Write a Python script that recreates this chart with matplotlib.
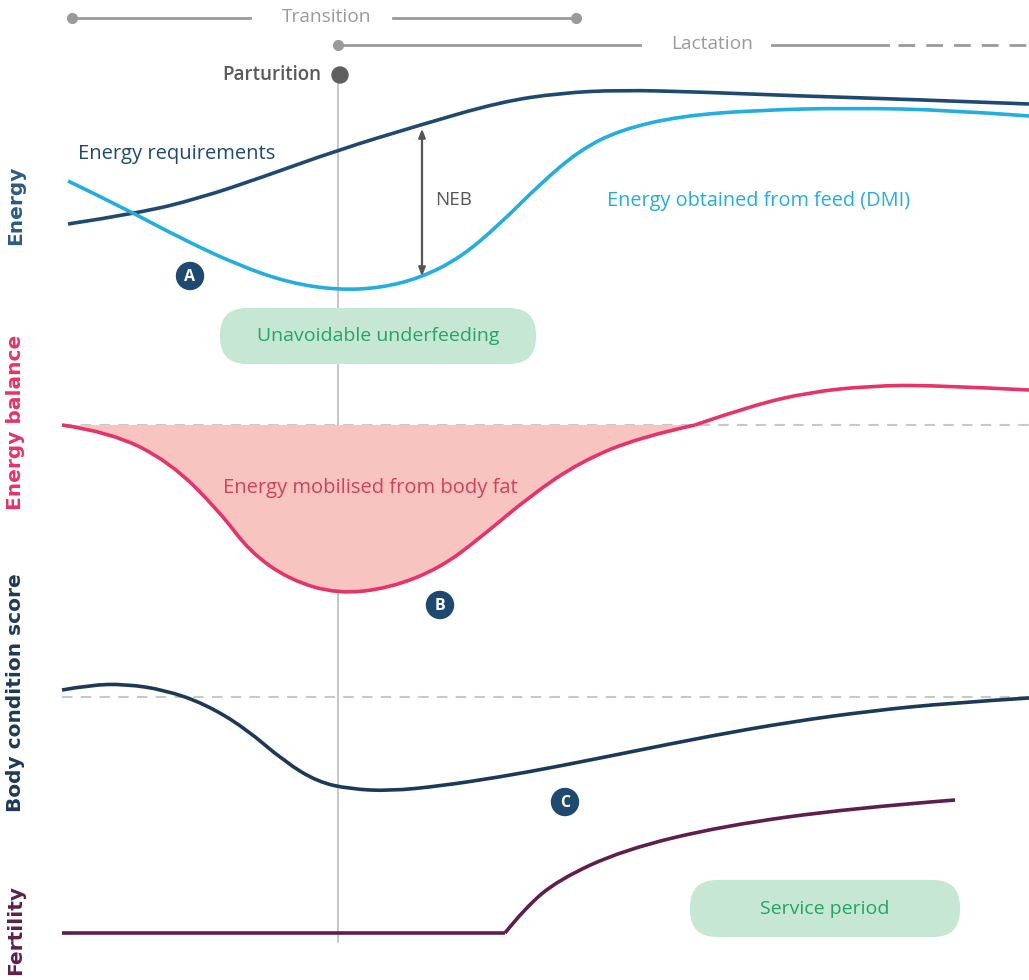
import matplotlib.pyplot as plt
from matplotlib.path import Path
from matplotlib.patches import PathPatch, FancyBboxPatch, Circle

# Schematic curves (x, y in picture pixels, y down)
energy_req_x = [68, 140, 200, 260, 338, 420, 500, 560, 620, 700, 800, 900, 1029]
energy_req_y = [224, 213, 198, 178, 150, 125, 102, 93, 90, 92, 96, 99, 104]

dmi_x = [68, 120, 180, 240, 290, 338, 380, 420, 460, 500, 540, 580, 620, 680, 760, 850, 950, 1029]
dmi_y = [181, 206, 238, 266, 283, 290, 288, 278, 258, 224, 184, 150, 130, 116, 110, 108, 110, 116]

balance_dip_x = [62, 110, 170, 220, 250, 290, 338, 390, 440, 480, 530, 580, 640, 695]
balance_dip_y = [425, 432, 462, 512, 552, 580, 594, 588, 568, 538, 496, 462, 437, 425]
balance_rise_x = [695, 750, 810, 870, 930, 1029]
balance_rise_y = [425, 406, 392, 386, 385, 390]
balance_ref = 425

bcs_x = [62, 90, 125, 165, 205, 245, 285, 318, 350, 390, 440, 500, 560, 630, 710, 790, 870, 950, 1029]
bcs_y = [690, 685, 684, 690, 704, 728, 762, 782, 789, 791, 786, 777, 766, 752, 736, 722, 711, 703, 698]
bcs_ref = 697

fert_flat_x = [62, 505]
fert_flat_y = [933, 933]
fert_rise_x = [505, 525, 558, 623, 722, 853, 955]
fert_rise_y = [933, 908, 880, 850, 826, 808, 800]

markers = [("A", 190, 276), ("B", 440, 605), ("C", 565, 802)]
row_labels = [("Energy", 205, "#2b5b86"), ("Energy balance", 422, "#e6336a"),
              ("Body condition score", 693, "#1c3a57"), ("Fertility", 930, "#5e1f4c")]

FONT = "Open Sans"
GREY = "#9a9a9a"


def smooth_path(xs, ys, closed=False):
    pts = list(zip(xs, ys))
    verts = [pts[0]]
    codes = [Path.MOVETO]
    n = len(pts)
    for i in range(1, n - 1):
        end = pts[i + 1] if i == n - 2 else ((pts[i][0] + pts[i + 1][0]) / 2, (pts[i][1] + pts[i + 1][1]) / 2)
        verts += [pts[i], end]
        codes += [Path.CURVE3, Path.CURVE3]
    if n == 2:
        verts.append(pts[1])
        codes.append(Path.LINETO)
    if closed:
        verts.append(pts[0])
        codes.append(Path.CLOSEPOLY)
    return Path(verts, codes)


def curve(ax, xs, ys, color, lw=2.6, z=3):
    ax.add_patch(PathPatch(smooth_path(xs, ys), fill=False, edgecolor=color, lw=lw,
                           capstyle="butt", joinstyle="round", zorder=z))


fig = plt.figure(figsize=(10.29, 9.8), dpi=100)
ax = fig.add_axes([0, 0, 1, 1])
ax.set_xlim(0, 1029)
ax.set_ylim(980, 0)
ax.axis("off")

# parturition line
ax.plot([338, 338], [75, 942], color="#bdbdbd", lw=1.2, zorder=1)
ax.add_patch(Circle((340, 75), 8, color="#5f5f5f", zorder=4))
ax.text(321, 75, "Parturition", ha="right", va="center", fontsize=13.5,
        fontweight="semibold", color="#5a5a5a", family=FONT)

# transition / lactation bars
ax.plot([72, 250], [18, 18], color=GREY, lw=2)
ax.plot([393, 576], [18, 18], color=GREY, lw=2)
ax.plot([72, 576], [18, 18], "o", color=GREY, ms=7, lw=0)
ax.text(327, 17, "Transition", ha="center", va="center", fontsize=13.8, color=GREY, family=FONT)
ax.plot([338, 640], [45, 45], color=GREY, lw=2)
ax.plot([338], [45], "o", color=GREY, ms=7)
ax.plot([772, 888], [45, 45], color=GREY, lw=2)
ax.plot([898, 1029], [45, 45], color=GREY, lw=2, dashes=(6, 4))
ax.text(712, 44, "Lactation", ha="center", va="center", fontsize=13.8, color=GREY, family=FONT)

# energy panel
curve(ax, energy_req_x, energy_req_y, "#1e4a72")
curve(ax, dmi_x, dmi_y, "#22aee0")
ax.annotate("", xy=(422, 126), xytext=(422, 279),
            arrowprops=dict(arrowstyle="<|-|>,head_length=0.5,head_width=0.2", color="#555555", lw=1.6))
ax.text(435, 200, "NEB", ha="left", va="center", fontsize=13.5, color="#555555", family=FONT)
ax.text(78, 154, "Energy requirements", ha="left", va="center", fontsize=14.5, color="#1e4a72", family=FONT)
ax.text(607, 201, "Energy obtained from feed (DMI)", ha="left", va="center", fontsize=14.3,
        color="#22aee0", family=FONT)

# energy balance panel
ax.plot([62, 1029], [balance_ref, balance_ref], color="#c8c8c8", lw=1.5, dashes=(5, 4), zorder=1)
ax.add_patch(PathPatch(smooth_path(balance_dip_x, balance_dip_y, closed=True),
                       facecolor="#f7c4c0", edgecolor="none", zorder=2))
curve(ax, balance_dip_x, balance_dip_y, "#e6336a")
curve(ax, balance_rise_x, balance_rise_y, "#e6336a")
ax.text(370, 488, "Energy mobilised from body fat", ha="center", va="center", fontsize=14.5,
        color="#d3405e", family=FONT)

# body condition score
ax.plot([62, 1029], [bcs_ref, bcs_ref], color="#c8c8c8", lw=1.5, dashes=(5, 4), zorder=1)
curve(ax, bcs_x, bcs_y, "#1c3a57")

# fertility
curve(ax, fert_flat_x, fert_flat_y, "#5e1f4c")
curve(ax, fert_rise_x, fert_rise_y, "#5e1f4c")

# green boxes
for (x0, y0, w, h, txt) in [(220, 308, 316, 56, "Unavoidable underfeeding"),
                            (690, 880, 270, 57, "Service period")]:
    ax.add_patch(FancyBboxPatch((x0, y0), w, h, boxstyle="round,pad=0,rounding_size=27",
                                facecolor="#c6e7d4", edgecolor="none", zorder=2))
    ax.text(x0 + w / 2, y0 + h / 2, txt, ha="center", va="center", fontsize=14,
            color="#22a566", family=FONT, zorder=3)

# letter markers
for letter, mx, my in markers:
    ax.add_patch(Circle((mx, my), 13.5, color="#1e4a72", zorder=5))
    ax.text(mx, my + 1, letter, ha="center", va="center", fontsize=11.5, fontweight="bold",
            color="white", family=FONT, zorder=6)

# row titles
for label, yc, col in row_labels:
    ax.text(16, yc, label, rotation=90, ha="center", va="center", fontsize=14.5,
            fontweight="bold", color=col, family="DejaVu Sans")

fig.savefig("out.png", dpi=100)
